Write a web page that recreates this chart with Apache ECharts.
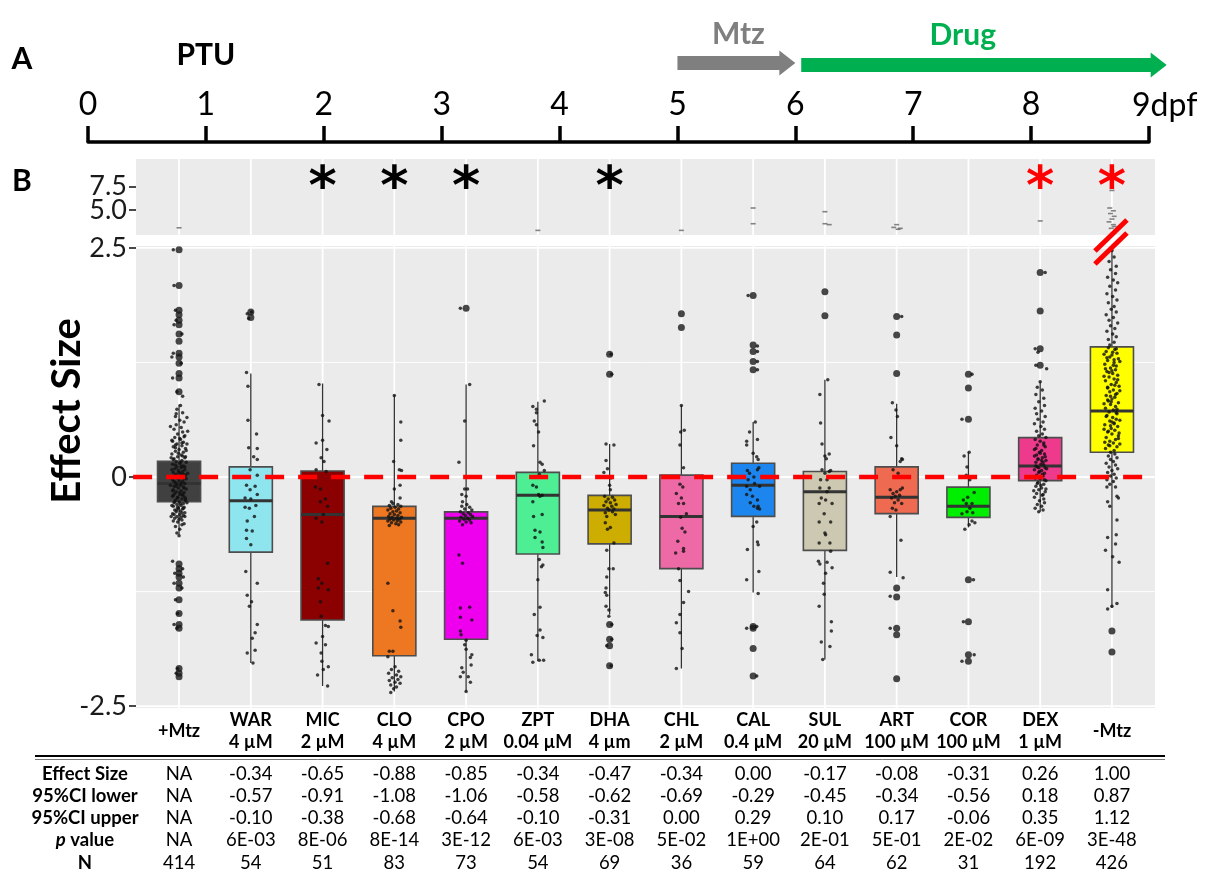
<!DOCTYPE html>
<html>
<head>
<meta charset="utf-8">
<script src="https://cdn.jsdelivr.net/npm/echarts@6/dist/echarts.min.js"></script>
<style>
html,body{margin:0;padding:0;background:#fff}
#chart{width:1210px;height:878px}
</style>
</head>
<body>
<div id="chart"></div>
<script>
// ---- treatment groups ----
const categories = ['+Mtz','WAR','MIC','CLO','CPO','ZPT','DHA','CHL','CAL','SUL','ART','COR','DEX','-Mtz'];
const doses = ['', '4 µM', '2 µM', '4 µM', '2 µM', '0.04 µM', '4 µm', '2 µM', '0.4 µM', '20 µM', '100 µM', '100 µM', '1 µM', ''];

// ---- box summaries (effect size) ----
const whiskerLow  = [-0.63, -2.03, -2.28, -2.34, -2.34, -2.01, -1.50, -2.09, -1.26, -1.99, -1.09, -0.55, -0.38, -1.43];
const q1          = [-0.27, -0.82, -1.56, -1.95, -1.77, -0.84, -0.73, -1.00, -0.43, -0.80, -0.40, -0.44, -0.04, 0.27];
const median      = [-0.07, -0.26, -0.41, -0.45, -0.45, -0.20, -0.36, -0.43, -0.09, -0.16, -0.22, -0.32, 0.12, 0.72];
const q3          = [0.17, 0.11, 0.065, -0.32, -0.38, 0.05, -0.20, 0.02, 0.15, 0.06, 0.11, -0.11, 0.43, 1.42];
const whiskerHigh = [0.79, 1.13, 1.02, 0.89, 1.01, 0.82, 0.36, 0.78, 0.60, 1.06, 0.80, 0.27, 1.04, 2.48];

// ---- outliers per group ----
const outliers = [
  [2.48,2.09,1.82,1.77,1.71,1.66,1.56,1.48,1.35,1.31,1.24,1.13,1.08,0.93,-0.95,-1.0,-1.05,-1.09,-1.16,-1.21,-1.34,-1.49,-1.61,-1.65,-2.09,-2.14,-2.18],
  [1.80,1.74],
  [],
  [],
  [1.84],
  [],
  [1.34,1.12,-1.61,-1.77,-1.84,-2.06],
  [1.78,1.63],
  [1.98,1.44,1.37,1.26,1.17,-1.63,-1.65,-1.87,-2.17],
  [2.02,1.76],
  [1.75,1.55,1.13,-1.21,-1.31,-1.65,-1.72,-2.20],
  [1.12,0.97,0.63,-1.12,-1.58,-1.94,-2.01],
  [2.23,1.81,1.40,1.22],
  [-1.68,-1.91]
];

// ---- individual larvae: [horizontal jitter, effect size] ----
const ptsMtzPlus = [[0.02,0.78],[-0.03,0.74],[0.05,0.70],[-0.05,0.66],[0.01,0.62],[0.07,0.60],[-0.04,0.57],[0.03,0.54],[-0.07,0.52],[0.05,0.49],[-0.02,0.47],[0.08,0.45],[-0.06,0.43],[0.02,0.41],[-0.09,0.39],[0.06,0.38],[-0.03,0.36],[0.04,0.34],[-0.08,0.33],[0.09,0.31],[0.0,0.30],[-0.05,0.28],[0.06,0.27],[-0.1,0.25],[0.03,0.24],[-0.02,0.22],[0.08,0.21],[-0.07,0.20],[0.04,0.18],[-0.04,0.17],[0.1,0.16],[0.01,0.15],[-0.09,0.14],[0.06,0.12],[-0.03,0.11],[0.03,0.10],[-0.06,0.09],[0.08,0.08],[-0.01,0.07],[0.05,0.06],[-0.08,0.05],[0.02,0.04],[-0.04,0.03],[0.09,0.02],[-0.06,0.01],[0.04,0.0],[-0.02,-0.01],[0.07,-0.02],[-0.09,-0.03],[0.0,-0.04],[0.05,-0.05],[-0.05,-0.06],[0.08,-0.07],[-0.03,-0.08],[0.02,-0.09],[-0.07,-0.10],[0.06,-0.11],[-0.01,-0.12],[0.1,-0.13],[-0.08,-0.14],[0.03,-0.15],[-0.04,-0.16],[0.07,-0.17],[-0.06,-0.18],[0.01,-0.19],[0.05,-0.20],[-0.09,-0.21],[0.08,-0.22],[-0.02,-0.23],[0.04,-0.24],[-0.05,-0.25],[0.09,-0.26],[0.0,-0.27],[-0.07,-0.28],[0.06,-0.29],[-0.03,-0.30],[0.03,-0.31],[-0.08,-0.32],[0.07,-0.33],[-0.01,-0.34],[0.05,-0.35],[-0.06,-0.36],[0.02,-0.37],[-0.04,-0.38],[0.08,-0.39],[-0.09,-0.40],[0.01,-0.41],[0.06,-0.42],[-0.03,-0.43],[0.03,-0.44],[-0.06,-0.45],[0.04,-0.47],[-0.02,-0.49],[0.07,-0.51],[-0.05,-0.54],[0.01,-0.57],[-0.03,-0.61],[0.0,-0.64],
  [0.07,0.44],[-0.1,0.40],[0.04,0.37],[-0.05,0.32],[0.1,0.29],[-0.01,0.26],[0.05,0.23],[-0.08,0.19],[0.02,0.16],[-0.05,0.13],[0.08,0.11],[-0.1,0.08],[0.0,0.05],[0.06,0.03],[-0.03,0.0],[0.1,-0.02],[-0.07,-0.05],[0.03,-0.07],[-0.04,-0.1],[0.07,-0.12],[-0.09,-0.15],[0.01,-0.17],[0.05,-0.19],[-0.02,-0.22],[0.09,-0.24],[-0.06,-0.27],[0.02,-0.29],[-0.1,-0.31],[0.06,-0.34],[-0.03,-0.36],[0.04,-0.39],[-0.07,-0.41],[0.08,-0.43],[0.0,-0.46],[-0.05,0.35],[0.03,0.12],[-0.02,-0.33],[0.09,0.22],[-0.08,-0.2],[0.01,0.42],
  [0.11,0.36],[-0.11,0.21],[0.12,0.04],[-0.12,-0.09],[0.11,-0.28],[-0.11,-0.43],[0.12,0.50],[-0.12,0.55],[0.11,0.65],[-0.04,0.69],[0.04,-0.52],[-0.08,-0.48],
  [-0.08,2.48],[-0.07,2.09],[-0.05,1.82],[-0.04,1.71],[-0.07,1.66],[0.04,1.56],[-0.08,1.35],[-0.1,1.31],[0.03,1.24],[-0.09,1.08],[-0.03,0.93],[0.05,0.88],
  [-0.09,-0.92],[0.05,-1.0],[-0.06,-1.05],[0.06,-1.09],[-0.07,-1.16],[0.04,-1.21],[-0.05,-1.34],[-0.02,-1.49],[-0.07,-1.61],[-0.03,-1.65],[-0.02,-2.09],[-0.04,-2.14]];
const ptsWar = [[-0.06,1.14],[-0.04,0.99],[-0.04,0.62],[0.08,0.47],[-0.03,0.32],[0.09,0.31],[0.04,0.22],[0.09,0.19],[-0.01,0.08],[0.09,0.02],[-0.06,-0.09],[0.06,-0.10],[-0.01,-0.14],[0.09,-0.19],[-0.08,-0.23],[0.0,-0.24],[0.07,-0.31],[-0.08,-0.33],[-0.02,-0.34],[0.05,-0.43],[-0.05,-0.48],[-0.06,-0.58],[0.02,-0.59],[-0.06,-0.67],[0.0,-0.74],[-0.07,-1.03],[0.09,-1.16],[-0.05,-1.29],[0.01,-1.36],[-0.02,-1.41],[0.09,-1.61],[0.06,-1.70],[0.02,-1.76],[0.06,-1.89],[-0.05,-1.92],[0.03,-2.03],[-0.05,1.78],[0.01,1.80],[-0.03,1.73]];
const ptsMic = [[-0.05,1.01],[0.0,0.67],[0.09,0.61],[-0.09,0.37],[0.0,0.40],[0.06,0.30],[-0.02,0.21],[0.02,0.17],[-0.09,0.08],[0.05,0.06],[-0.1,-0.11],[-0.03,-0.13],[0.04,-0.24],[-0.03,-0.27],[0.07,-0.32],[0.01,-0.41],[-0.09,-0.45],[-0.01,-0.49],[0.07,-0.94],[-0.06,-1.11],[-0.01,-1.16],[-0.06,-1.21],[0.08,-1.23],[-0.03,-1.36],[-0.02,-1.52],[0.04,-1.62],[0.08,-1.63],[0.0,-1.74],[-0.09,-1.81],[0.04,-1.83],[-0.02,-1.92],[-0.01,-2.01],[0.08,-2.07],[0.01,-2.10],[-0.07,-2.16],[0.07,-2.28]];
const ptsClo = [[0.0,0.89],[0.09,0.60],[0.09,0.40],[-0.01,0.17],[0.07,0.08],[0.1,0.07],[0.08,-0.09],[0.0,-0.13],[0.08,-0.23],[-0.04,-0.27],[-0.02,-0.29],[0.05,-0.30],[-0.07,-0.31],[0.09,-0.32],[0.01,-0.33],[-0.05,-0.34],[0.06,-0.35],[-0.09,-0.36],[0.03,-0.37],[-0.02,-0.38],[0.08,-0.39],[-0.06,-0.40],[0.0,-0.41],[0.05,-0.42],[-0.08,-0.43],[0.1,-0.44],[-0.03,-0.44],[0.03,-0.45],[-0.06,-0.46],[0.07,-0.46],[-0.01,-0.47],[0.04,-0.48],[-0.09,-0.48],[0.09,-0.49],[-0.04,-0.50],[0.02,-0.51],[0.06,-0.52],[-0.07,-0.53],[-0.09,-1.16],[-0.02,-1.46],[0.08,-1.57],[0.09,-1.64],[-0.07,-1.90],[-0.02,-1.90],[-0.09,-1.96],[0.01,-2.07],[-0.04,-2.10],[0.06,-2.12],[-0.08,-2.14],[0.03,-2.16],[0.09,-2.18],[-0.03,-2.19],[0.05,-2.21],[-0.07,-2.22],[0.01,-2.24],[0.08,-2.25],[-0.05,-2.27],[0.03,-2.29],[-0.01,-2.31],[-0.05,-2.35]];
const ptsCpo = [[-0.08,1.84],[0.05,1.01],[-0.02,0.61],[-0.1,0.16],[-0.02,-0.13],[0.02,-0.13],[-0.06,-0.19],[0.0,-0.21],[-0.05,-0.27],[0.01,-0.30],[-0.06,-0.32],[0.05,-0.33],[-0.02,-0.35],[0.08,-0.36],[-0.08,-0.38],[0.03,-0.39],[-0.04,-0.40],[0.06,-0.41],[-0.01,-0.42],[0.09,-0.43],[-0.07,-0.44],[0.02,-0.45],[-0.03,-0.46],[0.05,-0.47],[-0.09,-0.48],[0.0,-0.49],[0.07,-0.50],[-0.05,-0.52],[-0.1,-0.85],[-0.05,-0.94],[-0.08,-1.43],[0.05,-1.42],[-0.08,-1.53],[0.08,-1.56],[-0.08,-1.68],[-0.07,-1.72],[0.0,-1.78],[-0.02,-1.83],[0.0,-1.88],[0.08,-1.94],[0.06,-1.97],[0.07,-2.05],[-0.06,-2.08],[-0.04,-2.13],[0.03,-2.18],[-0.08,-2.18],[0.06,-2.24],[0.0,-2.34]];
const ptsZpt = [[0.09,0.83],[-0.07,0.77],[-0.02,0.74],[-0.02,0.70],[-0.05,0.61],[-0.02,0.57],[0.01,0.49],[-0.06,0.34],[0.03,0.16],[0.06,0.14],[0.09,0.07],[0.02,0.03],[-0.07,-0.09],[-0.02,-0.11],[0.01,-0.19],[0.06,-0.20],[0.03,-0.21],[-0.07,-0.27],[-0.06,-0.43],[0.06,-0.41],[-0.04,-0.58],[0.03,-0.60],[-0.04,-0.66],[0.06,-0.71],[0.07,-0.77],[0.02,-0.90],[0.07,-0.96],[0.05,-0.98],[0.0,-1.12],[0.03,-1.42],[-0.05,-1.50],[0.03,-1.67],[0.07,-1.75],[-0.01,-1.73],[-0.09,-1.94],[0.02,-2.00],[0.08,-2.00],[-0.07,-2.02]];
const ptsDha = [[0.02,1.34],[0.03,1.12],[-0.05,0.36],[0.06,0.35],[-0.05,0.18],[-0.03,0.09],[-0.08,0.05],[0.02,-0.01],[0.0,-0.09],[0.01,-0.14],[-0.07,-0.21],[0.04,-0.22],[-0.02,-0.24],[0.07,-0.25],[-0.05,-0.27],[0.01,-0.28],[0.09,-0.30],[-0.08,-0.31],[0.03,-0.32],[-0.03,-0.34],[0.06,-0.35],[-0.01,-0.36],[0.04,-0.38],[-0.06,-0.39],[0.08,-0.41],[-0.04,-0.43],[-0.06,-0.50],[0.01,-0.55],[-0.03,-0.57],[0.06,-0.72],[-0.04,-0.80],[0.05,-1.00],[-0.01,-1.00],[-0.04,-1.09],[-0.05,-1.21],[-0.06,-1.26],[-0.04,-1.29],[-0.05,-1.41],[-0.01,-1.45],[-0.01,-1.52],[0.03,-1.61],[0.03,-1.77],[-0.04,-1.84],[0.02,-2.06]];
const ptsChl = [[0.0,0.78],[0.04,0.51],[-0.01,0.49],[-0.02,0.35],[0.03,0.10],[-0.02,-0.08],[0.02,-0.11],[-0.07,-0.18],[0.0,-0.23],[0.03,-0.29],[-0.04,-0.29],[0.07,-0.40],[-0.01,-0.44],[0.01,-0.56],[0.05,-0.60],[-0.05,-0.70],[0.03,-0.78],[0.03,-0.81],[-0.08,-0.83],[-0.04,-1.0],[-0.02,-1.13],[0.1,-1.25],[0.03,-1.37],[-0.02,-1.50],[-0.07,-1.59],[-0.02,-1.70],[0.01,-1.87],[-0.07,-2.09]];
const ptsCal = [[-0.07,1.98],[0.06,1.43],[0.06,1.37],[0.06,1.26],[0.06,1.17],[0.03,0.60],[-0.05,0.49],[0.06,0.41],[-0.09,0.39],[-0.09,0.35],[0.0,0.26],[0.05,0.22],[0.07,0.19],[0.08,0.10],[-0.08,0.07],[0.06,0.08],[-0.05,0.04],[0.01,0.0],[-0.07,-0.03],[0.02,-0.07],[0.09,-0.10],[-0.09,-0.10],[-0.04,-0.14],[-0.09,-0.19],[-0.01,-0.21],[0.06,-0.25],[-0.04,-0.28],[0.07,-0.32],[0.01,-0.32],[0.06,-0.34],[0.09,-0.35],[0.05,-0.49],[0.0,-0.54],[0.06,-0.71],[0.07,-0.74],[-0.08,-0.79],[0.08,-1.03],[-0.09,-1.12],[0.07,-1.27],[-0.09,-1.65],[0.05,-1.63],[0.05,-2.17]];
const ptsSul = [[0.04,1.06],[-0.07,0.90],[-0.06,0.59],[-0.04,0.36],[0.06,0.25],[0.0,0.23],[0.02,0.20],[-0.04,0.08],[0.08,0.07],[0.06,0.06],[0.0,0.04],[-0.06,-0.03],[0.03,-0.03],[-0.07,-0.12],[0.06,-0.12],[0.03,-0.16],[-0.05,-0.23],[0.01,-0.25],[-0.08,-0.29],[0.1,-0.29],[-0.01,-0.40],[-0.08,-0.49],[0.08,-0.49],[0.0,-0.61],[0.01,-0.63],[-0.08,-0.72],[0.07,-0.72],[0.08,-0.81],[-0.09,-0.92],[0.03,-0.93],[-0.07,-0.95],[0.1,-0.99],[0.01,-1.05],[-0.02,-1.16],[-0.01,-1.28],[-0.08,-1.41],[0.09,-1.58],[0.09,-1.68],[-0.05,-1.80],[0.07,-1.85],[-0.03,-1.99]];
const ptsArt = [[0.07,1.75],[-0.06,0.81],[-0.01,0.73],[0.01,0.66],[-0.08,0.43],[0.0,0.34],[0.07,0.20],[0.08,0.19],[0.05,0.17],[-0.05,0.08],[0.02,0.04],[0.08,-0.12],[-0.09,-0.14],[0.05,-0.14],[0.0,-0.16],[-0.05,-0.18],[0.04,-0.20],[-0.02,-0.21],[-0.07,-0.23],[0.02,-0.25],[-0.03,-0.28],[0.07,-0.29],[-0.06,-0.34],[-0.01,-0.36],[-0.09,-0.43],[0.06,-0.69],[-0.09,-1.04],[0.09,-1.10],[-0.09,-1.30],[-0.09,-1.65]];
const ptsCor = [[0.05,1.12],[-0.09,0.63],[0.01,0.27],[-0.06,0.23],[-0.02,0.11],[-0.03,0.02],[0.02,-0.03],[0.08,-0.17],[-0.01,-0.22],[-0.07,-0.25],[0.05,-0.29],[-0.03,-0.29],[0.02,-0.34],[-0.02,-0.38],[0.06,-0.39],[-0.09,-0.40],[0.05,-0.48],[0.09,-0.50],[0.01,-0.52],[-0.05,-0.57],[0.07,-1.12],[-0.07,-1.58],[0.08,-1.94],[-0.09,-2.01]];
const ptsDex = [[0.0,1.04],[-0.04,0.98],[0.03,0.95],[-0.06,0.90],[0.05,0.86],[-0.02,0.82],[0.06,0.78],[-0.07,0.75],[0.02,0.72],[-0.05,0.69],[0.07,0.66],[-0.03,0.63],[0.04,0.60],[-0.08,0.58],[0.01,0.55],[0.06,0.52],[-0.05,0.50],[0.03,0.47],[-0.02,0.45],[0.08,0.43],[-0.07,0.41],[0.0,0.39],[0.05,0.37],[-0.04,0.35],[0.07,0.33],[-0.06,0.31],[0.02,0.29],[-0.01,0.27],[0.06,0.25],[-0.08,0.23],[0.03,0.21],[-0.03,0.19],[0.08,0.18],[-0.06,0.16],[0.01,0.14],[0.05,0.13],[-0.04,0.11],[0.07,0.10],[-0.08,0.08],[0.02,0.07],[-0.02,0.05],[0.06,0.04],[-0.05,0.02],[0.04,0.01],[-0.07,-0.01],[0.0,-0.02],[0.08,-0.04],[-0.03,-0.06],[0.05,-0.08],[-0.06,-0.10],[0.02,-0.12],[-0.02,-0.14],[0.07,-0.16],[-0.05,-0.18],[0.03,-0.20],[-0.08,-0.22],[0.05,-0.24],[-0.01,-0.26],[0.06,-0.28],[-0.04,-0.30],[0.02,-0.32],[-0.07,-0.34],[0.04,-0.36],[-0.02,-0.38],
  [0.05,0.35],[-0.08,0.30],[0.0,0.26],[0.07,0.22],[-0.03,0.20],[0.04,0.16],[-0.06,0.12],[0.09,0.09],[-0.01,0.06],[0.03,0.03],[-0.07,0.0],[0.06,-0.03],[-0.04,-0.07],[0.01,-0.09],[0.08,-0.13],[-0.09,-0.15],[0.04,-0.19],[-0.02,0.10],[0.02,0.18],[-0.05,0.24],
  [0.07,2.23],[-0.03,1.36],[-0.07,1.40],[-0.06,1.22],[0.09,1.18]];
const ptsMtzMinus = [[0.0,2.47],[0.03,2.40],[-0.04,2.35],[0.06,2.30],[-0.02,2.26],[0.05,2.22],[-0.06,2.18],[0.02,2.15],[0.08,2.12],[-0.03,2.08],[0.05,2.04],[-0.07,2.00],[0.01,1.97],[0.07,1.93],[-0.05,1.90],[0.03,1.86],[-0.01,1.83],[0.06,1.80],[-0.08,1.77],[0.02,1.74],[-0.04,1.71],[0.08,1.68],[-0.02,1.65],[0.04,1.62],[-0.07,1.59],[0.01,1.56],[0.06,1.53],[-0.05,1.50],[0.03,1.47],[-0.03,1.44],
  [-0.05,1.41],[0.04,1.39],[-0.08,1.37],[0.07,1.35],[0.0,1.33],[-0.03,1.31],[0.09,1.29],[-0.06,1.27],[0.03,1.25],[-0.1,1.23],[0.06,1.21],[-0.02,1.19],[0.05,1.17],[-0.07,1.15],[0.01,1.13],[0.08,1.11],[-0.04,1.09],[0.03,1.07],[-0.09,1.05],[0.06,1.03],[-0.01,1.01],[0.1,0.99],[-0.06,0.97],[0.02,0.95],[-0.03,0.93],[0.07,0.91],[-0.08,0.89],[0.04,0.87],[0.0,0.85],[-0.05,0.83],[0.09,0.81],[-0.02,0.79],[0.05,0.77],[-0.09,0.75],[0.02,0.73],[-0.04,0.71],[0.07,0.69],[-0.07,0.67],[0.01,0.65],[0.06,0.63],[-0.03,0.61],[0.03,0.59],[-0.1,0.57],[0.08,0.55],[-0.01,0.53],[0.04,0.51],[-0.06,0.49],[0.0,0.47],[0.09,0.45],[-0.08,0.43],[0.05,0.41],[-0.03,0.39],[0.02,0.37],[-0.05,0.35],[0.07,0.33],[-0.09,0.31],[0.03,0.29],[-0.02,0.27],
  [0.06,1.40],[-0.07,1.30],[0.02,1.22],[-0.04,1.14],[0.08,1.06],[-0.06,0.98],[0.05,0.90],[-0.01,0.82],[0.07,0.74],[-0.08,0.66],[0.03,0.58],[-0.05,0.50],[0.09,0.42],[-0.03,0.34],[0.01,1.36],[-0.09,1.18],[0.04,1.00],[-0.06,0.84],[0.06,0.70],[-0.02,0.56],[0.1,0.48],[-0.1,0.38],
  [0.11,1.26],[-0.11,1.10],[0.11,0.94],[-0.11,0.80],[0.11,0.62],[-0.11,0.52],[0.11,0.36],[-0.11,1.34],[0.0,1.16],[0.0,0.60],[-0.02,0.88],[0.03,1.28],
  [0.04,0.25],[-0.05,0.23],[0.07,0.21],[-0.02,0.19],[0.02,0.17],[-0.08,0.15],[0.05,0.13],[-0.04,0.11],[0.08,0.09],[0.0,0.07],[-0.06,0.05],[0.03,0.03],[-0.02,0.01],[0.06,-0.01],[-0.07,-0.03],[0.02,-0.05],[-0.03,-0.08],[0.05,-0.11],[-0.07,-0.11],[0.07,-0.21],[0.09,-0.23],[-0.06,-0.27],[-0.03,-0.32],[0.07,-0.47],[-0.06,-0.66],[0.06,-0.63],[-0.09,-0.80],[0.05,-0.73],[0.01,-0.87],[0.1,-0.93],[-0.06,-1.23],[-0.06,-1.44],[0.07,-1.38],[0.0,-1.41]];
const pointSets = [ptsMtzPlus, ptsWar, ptsMic, ptsClo, ptsCpo, ptsZpt, ptsDha, ptsChl, ptsCal, ptsSul, ptsArt, ptsCor, ptsDex, ptsMtzMinus];

// values above the axis break: [group index, jitter, effect size]
const highPts = [[0,0,3.06],[5,0,2.78],[7,0,2.78],[8,0,5.2],[8,0,3.5],[9,0,4.8],[9,0,3.5],[9,0.06,3.4],[10,0,3.4],[10,-0.04,3.1],[10,0.02,2.9],[10,0.05,3.0],[12,0,3.8],[13,0,9.2],[13,0,7.1],[13,-0.03,5.2],[13,0.02,4.9],[13,-0.02,4.6],[13,0.03,4.3],[13,0,4.0],[13,-0.04,3.7],[13,0.02,3.4],[13,-0.01,3.0],[13,0.03,3.2]];

// significance marks
const starBlack = ['MIC','CLO','CPO','DHA'];
const starRed = ['DEX','-Mtz'];

// ---- summary table ----
const effectSize = ['NA','-0.34','-0.65','-0.88','-0.85','-0.34','-0.47','-0.34','0.00','-0.17','-0.08','-0.31','0.26','1.00'];
const ciLower    = ['NA','-0.57','-0.91','-1.08','-1.06','-0.58','-0.62','-0.69','-0.29','-0.45','-0.34','-0.56','0.18','0.87'];
const ciUpper    = ['NA','-0.10','-0.38','-0.68','-0.64','-0.10','-0.31','0.00','0.29','0.10','0.17','-0.06','0.35','1.12'];
const pValue     = ['NA','6E-03','8E-06','8E-14','3E-12','6E-03','3E-08','5E-02','1E+00','2E-01','5E-01','2E-02','6E-09','3E-48'];
const nCount     = ['414','54','51','83','73','54','69','36','59','64','62','31','192','426'];

// ---- timeline (days post fertilisation) ----
const dayTicks = [0,1,2,3,4,5,6,7,8,9];
const mtzSpan = [5, 6];
const drugSpan = [6.05, 9.15];

// ---- styling ----
const boxFill = ['#404040','#8ee5ee','#8b0000','#ee7722','#ee00ee','#4eee94','#cdad00','#ee6aa7','#1c86ee','#cdc8b1','#ee6a50','#00ee00','#ee3a8c','#ffff00'];
const FONT = 'Lato, "Open Sans", sans-serif';
const BOX_W = 0.6;
const X_MIN = -0.6, X_MAX = 13.6;
const Y_MIN = -2.52, Y_MAX = 2.52;
const TOP_MIN = 2.28, TOP_MAX = 10.5;

const chart = echarts.init(document.getElementById('chart'), null, {renderer: 'canvas'});

function gridLines(yMin, yMax) {
  return function (params, api) {
    const kind = api.value(0), v = api.value(1);
    let p1, p2, w;
    if (kind === 2) { p1 = api.coord([v, yMin]); p2 = api.coord([v, yMax]); w = 1.8; }
    else { p1 = api.coord([X_MIN, v]); p2 = api.coord([X_MAX, v]); w = kind === 0 ? 1.8 : 0.9; }
    return {type: 'line', shape: {x1: p1[0], y1: p1[1], x2: p2[0], y2: p2[1]}, style: {stroke: '#ffffff', lineWidth: w}};
  };
}

const mainGridData = [[0, 0], [0, 2.5], [0, -2.5], [1, 1.25], [1, -1.25]].concat(categories.map((c, i) => [2, i]));
const topGridData = categories.map((c, i) => [2, i]);

function renderBox(params, api) {
  const i = api.value(0);
  const lo = api.coord([i, api.value(1)]);
  const b1 = api.coord([i, api.value(2)]);
  const md = api.coord([i, api.value(3)]);
  const b3 = api.coord([i, api.value(4)]);
  const hi = api.coord([i, api.value(5)]);
  const half = api.size([BOX_W, 0])[0] / 2;
  return {
    type: 'group',
    children: [
      {type: 'line', shape: {x1: lo[0], y1: lo[1], x2: hi[0], y2: hi[1]}, style: {stroke: '#333', lineWidth: 1.3}},
      {type: 'rect', shape: {x: b3[0] - half, y: b3[1], width: half * 2, height: b1[1] - b3[1]},
        style: {fill: boxFill[params.dataIndex], stroke: '#4d4d4d', lineWidth: 1.6}},
      {type: 'line', shape: {x1: md[0] - half, y1: md[1], x2: md[0] + half, y2: md[1]}, style: {stroke: '#333', lineWidth: 3}}
    ]
  };
}

function renderZero(params, api) {
  const a = api.coord([X_MIN - 0.04, 0]);
  const b = api.coord([X_MAX, 0]);
  return {type: 'line', shape: {x1: a[0], y1: a[1], x2: b[0], y2: b[1]},
    style: {stroke: '#ff0000', lineWidth: 4.5, lineDash: [19, 14]}};
}

// asterisks drawn as text anchored at the group's position in the upper panel
function starRender(color) {
  return function (params, api) {
    const p = api.coord([api.value(0), api.value(1)]);
    return {type: 'text', x: p[0], y: p[1],
      style: {text: '*', font: 'bold 54px "DejaVu Sans"', fill: color, align: 'center', verticalAlign: 'middle'}};
  };
}

const jitterData = [];
pointSets.forEach((arr, i) => arr.forEach(p => jitterData.push([i + p[0], p[1]])));
const outlierData = [];
outliers.forEach((arr, i) => arr.forEach(v => outlierData.push([i, v])));

const STAR_Y = 7.1;

// the upper panel's two ticks live on two overlapping left axes so both labels stay visible
function topAxis(tickValue) {
  return {gridIndex: 1, type: 'value', position: 'left', offset: 0, min: TOP_MIN, max: TOP_MAX,
    axisLine: {show: false, onZero: false},
    axisTick: {show: true, length: 7, customValues: [tickValue], lineStyle: {color: '#333', width: 1.8}},
    axisLabel: {show: true, customValues: [tickValue], fontFamily: FONT, fontSize: 27, color: '#1a1a1a', margin: 9,
      formatter: v => v.toFixed(1)},
    splitLine: {show: false}};
}

const option = {
  backgroundColor: '#ffffff',
  animation: false,
  grid: [
    {left: 136, top: 246, width: 1019, height: 462, show: true, backgroundColor: '#ebebeb', borderWidth: 0},
    {left: 136, top: 159, width: 1019, height: 76, show: true, backgroundColor: '#ebebeb', borderWidth: 0},
    {left: 88, top: 142, width: 1061, height: 1, show: false}
  ],
  xAxis: [
    {gridIndex: 0, type: 'value', min: X_MIN, max: X_MAX, show: false, axisLine: {onZero: false}},
    {gridIndex: 1, type: 'value', min: X_MIN, max: X_MAX, show: false, axisLine: {onZero: false}},
    {gridIndex: 2, type: 'value', min: 0, max: 9, interval: 1, position: 'top',
      axisLine: {show: true, onZero: false, lineStyle: {color: '#000', width: 3.5}},
      axisTick: {show: true, length: 16, lineStyle: {color: '#000', width: 3.5}},
      axisLabel: {show: true, fontFamily: FONT, fontSize: 32, color: '#000', margin: 21,
        formatter: v => (v === 9 ? '' : String(v))},
      splitLine: {show: false}}
  ],
  yAxis: [
    {gridIndex: 0, type: 'value', position: 'left', min: Y_MIN, max: Y_MAX,
      axisLine: {show: false, onZero: false},
      axisTick: {show: true, length: 7, customValues: [-2.5, 0, 2.5], lineStyle: {color: '#333', width: 1.8}},
      axisLabel: {show: true, customValues: [-2.5, 0, 2.5], fontFamily: FONT, fontSize: 27, color: '#1a1a1a', margin: 9,
        formatter: v => (v === 0 ? '0' : v.toFixed(1))},
      splitLine: {show: false}},
    topAxis(7.5),
    {gridIndex: 2, type: 'value', min: 0, max: 1, show: false, axisLine: {onZero: false}},
    topAxis(5)
  ],
  series: [
    {type: 'custom', xAxisIndex: 0, yAxisIndex: 0, z: 1, silent: true, renderItem: gridLines(Y_MIN, Y_MAX), data: mainGridData},
    {type: 'custom', xAxisIndex: 1, yAxisIndex: 1, z: 1, silent: true, renderItem: gridLines(TOP_MIN, TOP_MAX), data: topGridData},
    {type: 'custom', xAxisIndex: 0, yAxisIndex: 0, z: 2, silent: true, renderItem: renderBox,
      encode: {x: 0, y: [1, 2, 3, 4, 5]},
      data: categories.map((c, i) => [i, whiskerLow[i], q1[i], median[i], q3[i], whiskerHigh[i]])},
    {type: 'scatter', xAxisIndex: 0, yAxisIndex: 0, z: 3, silent: true, symbolSize: 7,
      itemStyle: {color: '#1a1a1a'}, data: outlierData},
    {type: 'scatter', xAxisIndex: 0, yAxisIndex: 0, z: 4, silent: true, symbolSize: 3.5,
      itemStyle: {color: '#111'}, data: jitterData},
    {type: 'custom', xAxisIndex: 0, yAxisIndex: 0, z: 10, silent: true, renderItem: renderZero, data: [[0]]},
    {type: 'scatter', xAxisIndex: 1, yAxisIndex: 1, z: 3, silent: true, symbol: 'rect', symbolSize: [5, 1.6],
      itemStyle: {color: '#666'}, data: highPts.map(p => [p[0] + p[1], p[2]])},
    {type: 'custom', xAxisIndex: 1, yAxisIndex: 1, z: 5, silent: true, renderItem: starRender('#000'),
      data: starBlack.map(c => [categories.indexOf(c), STAR_Y])},
    {type: 'custom', xAxisIndex: 1, yAxisIndex: 1, z: 5, silent: true, renderItem: starRender('#ff0000'),
      data: starRed.map(c => [categories.indexOf(c), STAR_Y])},
    {type: 'scatter', xAxisIndex: 1, yAxisIndex: 3, silent: true, data: []},
    {type: 'scatter', xAxisIndex: 2, yAxisIndex: 2, silent: true, data: []}
  ]
};
chart.setOption(option);

// ---- annotations, arrows and the summary table ----
const colX = i => chart.convertToPixel({xAxisIndex: 0}, i);
const dayX = d => chart.convertToPixel({xAxisIndex: 2}, d);

function txt(x, y, text, font, fill, align, extra) {
  return Object.assign({type: 'text', x: x, y: y, z: 50, silent: true,
    style: {text: text, font: font, fill: fill || '#000', align: align || 'center', verticalAlign: 'middle'}}, extra || {});
}
function arrow(x0, x1, yc, color) {
  const hw = 7, hh = 12.5, hl = 16;
  return {type: 'polygon', z: 40, silent: true,
    shape: {points: [[x0, yc - hw], [x1 - hl, yc - hw], [x1 - hl, yc - hh], [x1, yc], [x1 - hl, yc + hh], [x1 - hl, yc + hw], [x0, yc + hw]]},
    style: {fill: color}};
}

const g = [];
g.push(txt(22, 59, 'A', 'bold 30px ' + FONT));
g.push(txt(22, 181, 'B', 'bold 30px ' + FONT));
g.push(txt(dayX(1), 55, 'PTU', 'bold 30px ' + FONT));
g.push(txt(dayX(9) - 17, 106, '9dpf', '32px ' + FONT, '#000', 'left'));
g.push(arrow(dayX(mtzSpan[0]), dayX(mtzSpan[1]), 63, '#7f7f7f'));
g.push(arrow(dayX(drugSpan[0]), dayX(drugSpan[1]), 65, '#00b050'));
g.push(txt((dayX(mtzSpan[0]) + dayX(mtzSpan[1])) / 2 + 2, 34, 'Mtz', 'bold 30px ' + FONT, '#7f7f7f'));
g.push(txt(dayX(7.42), 35, 'Drug', 'bold 30px ' + FONT, '#00b050'));

// y-axis title
g.push(txt(67, 411, 'Effect Size', 'bold 40px ' + FONT, '#000', 'center', {rotation: Math.PI / 2}));

// axis-break marks on the -Mtz whisker
const bx = colX(13);
[[0, 0], [0, 13]].forEach(o => {
  g.push({type: 'line', z: 60, silent: true,
    shape: {x1: bx - 17, y1: 251 + o[1], x2: bx + 15, y2: 220 + o[1]},
    style: {stroke: '#ff0000', lineWidth: 5}});
});

// table header
categories.forEach((c, i) => {
  const x = colX(i);
  if (doses[i]) {
    g.push(txt(x, 720, c, 'bold 18px ' + FONT));
    g.push(txt(x, 742, doses[i], 'bold 18px ' + FONT));
  } else {
    g.push(txt(x, 731, c, 'bold 18px ' + FONT));
  }
});
g.push({type: 'line', z: 40, silent: true, shape: {x1: 35, y1: 756, x2: 1165, y2: 756}, style: {stroke: '#000', lineWidth: 2.2}});
g.push({type: 'line', z: 40, silent: true, shape: {x1: 35, y1: 759.5, x2: 1165, y2: 759.5}, style: {stroke: '#777', lineWidth: 1}});

// table body
const rowY = [774, 796, 818, 840, 863];
const rowVals = [effectSize, ciLower, ciUpper, pValue, nCount];
const rowNames = ['Effect Size', '95%CI lower', '95%CI upper', null, 'N'];
rowY.forEach((y, r) => {
  if (rowNames[r]) {
    g.push(txt(85, y, rowNames[r], 'bold 18.5px ' + FONT));
  } else {
    g.push({type: 'text', x: 85, y: y, z: 50, silent: true,
      style: {text: '{i|p} value', font: 'bold 18.5px ' + FONT, fill: '#000', align: 'center', verticalAlign: 'middle',
        rich: {i: {fontStyle: 'italic', fontWeight: 'bold', fontSize: 18.5, fontFamily: FONT, fill: '#000'}}}});
  }
  rowVals[r].forEach((v, i) => g.push(txt(colX(i), y, v, '18.5px ' + FONT)));
});

chart.setOption({graphic: {elements: g}});
</script>
</body>
</html>
